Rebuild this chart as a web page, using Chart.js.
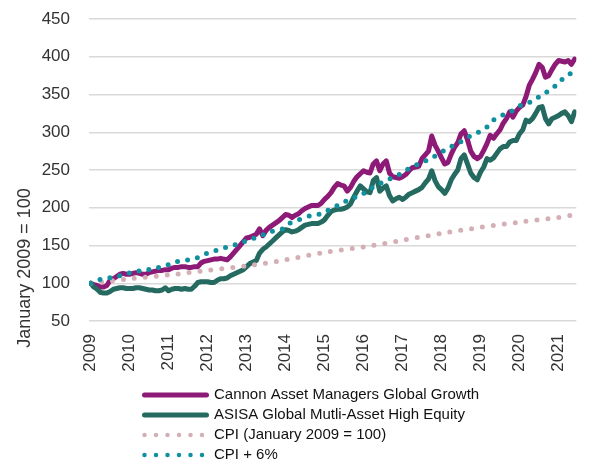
<!DOCTYPE html>
<html>
<head>
<meta charset="utf-8">
<script src="https://cdn.jsdelivr.net/npm/chart.js@4/dist/chart.umd.min.js"></script>
<style>
html,body{margin:0;padding:0;background:#ffffff;}
#wrap{width:592px;height:462px;position:relative;}
</style>
</head>
<body>
<div id="wrap"><canvas id="c"></canvas></div>
<script>
const seriesNames = [
  'Cannon Asset Managers Global Growth',
  'ASISA Global Mutli-Asset High Equity',
  'CPI (January 2009 = 100)',
  'CPI + 6%'
];
const yAxisTitle = 'January 2009 = 100';
const yearLabels = ['2009','2010','2011','2012','2013','2014','2015','2016','2017','2018','2019','2020','2021'];
const yearTickMonths = [0,12,24,36,48,60,72,84,96,108,120,132,144];

// monthly index values, Jan 2009 .. Jun 2021
const cannonMonthly = [
  100,98,97,95,95,97,104,106,109,112,
  113,112,112,113,114,113,112,112,114,115,
  116,117,117,118,118,120,121,121,122,122,
  121,121,122,122,127,129,130,131,132,132,
  133,132,131,135,140,145,150,155,160,161,
  163,165,172,163,170,174,177,180,183,187,
  191,190,187,190,192,196,199,201,203,203,
  203,206,211,215,220,227,232,230,229,222,
  227,235,241,245,249,247,246,258,262,249,
  258,262,246,241,240,239,241,244,249,253,
  254,255,265,270,275,295,283,275,266,258,
  260,271,280,286,298,302,290,275,268,265,
  268,276,285,296,292,298,303,312,318,327,
  320,328,333,336,347,362,370,379,390,386,
  373,375,383,390,395,394,393,395,390,397
];
const asisaMonthly = [
  100,95,92,88,87,87,89,92,93,94,
  94,93,93,93,94,94,93,92,91,91,
  90,90,91,94,90,92,93,93,92,93,
  92,92,96,101,102,102,102,101,101,104,
  106,106,107,110,112,114,116,118,122,126,
  128,130,140,145,148,152,156,160,164,168,
  171,170,168,169,171,174,177,178,179,179,
  179,181,184,190,195,197,198,198,199,201,
  205,214,222,229,225,221,220,236,240,222,
  226,229,216,209,212,214,211,214,218,220,
  222,224,227,233,238,249,236,228,224,219,
  226,237,244,250,265,270,258,246,240,237,
  247,254,265,263,266,272,278,281,281,287,
  289,289,298,303,316,314,318,325,333,334,
  318,311,318,320,322,325,327,322,314,327
];
const cpiMonths = [0,12,24,36,48,60,72,84,96,108,120,132,144,149];
const cpiValues = [100,106,111,117,123,131,141,148,157,166,174,181,187,191];
const cpi6Months = [0,3,7,10,13,16,20,23,26,30,33,36,39,42,46,49,52,55,59,61,64,68,71,74,77,80,83,86,89,92,95,98,101,104,107,110,113,116,119,122,124,127,130,133,136,139,142,144,147,149];
const cpi6Values = [100,105,108,111,115,117,120,123,128,131,134,140,144,148,153,158,162,168,172,179,184,190,192,199,205,212,216,225,232,238,244,252,258,264,271,279,285,293,299,307,316,323,329,337,341,350,357,366,376,381];

const yMin = 50, yMax = 450, yStep = 50;
const colors = ['#8e1a77', '#256a61', '#d4b0b6', '#10909e'];

const toPts = (xs, ys) => ys.map((v, i) => ({x: xs ? xs[i] : i, y: v}));

const textColor = '#333333';
const FONT = '"Liberation Sans", Arial, sans-serif';

const layoutHack = {
  id: 'layoutHack',
  afterLayout(chart) {
    const lg = chart.legend;
    if (!lg) return;
    lg.left = 139.5; lg.right = 505; lg.top = 382.5; lg.bottom = 462;
    lg.width = lg.right - lg.left; lg.height = lg.bottom - lg.top;
  }
};
const yTitlePlugin = {
  id: 'yTitlePlugin',
  afterDraw(chart) {
    const ctx = chart.ctx;
    ctx.save();
    ctx.translate(25, 268);
    ctx.rotate(-Math.PI / 2);
    ctx.textAlign = 'center';
    ctx.textBaseline = 'middle';
    ctx.font = '18px ' + FONT;
    ctx.fillStyle = textColor;
    ctx.fillText(yAxisTitle, 0, 0);
    ctx.restore();
  }
};

Chart.defaults.font.family = FONT;
Chart.defaults.color = textColor;

new Chart(document.getElementById('c'), {
  type: 'line',
  data: {
    datasets: [
      {label: seriesNames[0], data: toPts(null, cannonMonthly), borderColor: colors[0], backgroundColor: colors[0],
       borderWidth: 5, pointRadius: 0, tension: 0, borderJoinStyle: 'round', borderCapStyle: 'round', order: 4},
      {label: seriesNames[1], data: toPts(null, asisaMonthly), borderColor: colors[1], backgroundColor: colors[1],
       borderWidth: 5, pointRadius: 0, tension: 0, borderJoinStyle: 'round', borderCapStyle: 'round', order: 3},
      {label: seriesNames[2], data: toPts(cpiMonths, cpiValues), borderColor: colors[2], backgroundColor: colors[2],
       borderWidth: 5, pointRadius: 0, tension: 0.3, borderDash: [0, 11], borderCapStyle: 'round', order: 2},
      {label: seriesNames[3], data: toPts(cpi6Months, cpi6Values), borderColor: colors[3], backgroundColor: colors[3],
       borderWidth: 5, pointRadius: 0, tension: 0.3, borderDash: [0, 10], borderCapStyle: 'round', order: 1}
    ]
  },
  options: {
    responsive: true,
    maintainAspectRatio: false,
    animation: false,
    devicePixelRatio: 1,
    layout: {padding: {left: 0, right: 4, top: 19, bottom: 79}},
    plugins: {
      legend: {
        position: 'bottom',
        align: 'start',
        maxHeight: 1,
        labels: {
          usePointStyle: true,
          pointStyle: 'line',
          pointStyleWidth: 62,
          boxHeight: 15,
          padding: 5,
          color: '#111111',
          font: {size: 15, family: FONT},
          sort: (a, b) => a.datasetIndex - b.datasetIndex,
          generateLabels(chart) {
            const items = Chart.defaults.plugins.legend.labels.generateLabels(chart);
            items.forEach(it => {
              if (it.datasetIndex >= 2) { it.lineDash = [0, 11.5]; it.lineCap = 'round'; it.lineWidth = 4.5; }
              else { it.lineCap = 'round'; }
            });
            return items;
          }
        }
      },
      tooltip: {enabled: false}
    },
    scales: {
      x: {
        type: 'linear',
        min: -0.5,
        max: 149.5,
        grid: {display: false, drawTicks: false},
        border: {display: false},
        afterBuildTicks(axis) { axis.ticks = yearTickMonths.map(v => ({value: v})); },
        afterFit(scale) { scale.height = 61; },
        ticks: {
          autoSkip: false,
          maxRotation: 90,
          minRotation: 90,
          padding: 13,
          font: {size: 17},
          color: textColor,
          callback: (v) => yearLabels[yearTickMonths.indexOf(v)]
        }
      },
      y: {
        min: yMin,
        max: yMax,
        grid: {color: '#d9d9d9', lineWidth: 1.5, drawTicks: false},
        border: {display: false},
        afterFit(scale) { scale.width = 89; scale.paddingTop = 0; scale.paddingBottom = 0; },
        ticks: {stepSize: yStep, padding: 19, font: {size: 17}, color: textColor}
      }
    }
  },
  plugins: [layoutHack, yTitlePlugin]
});
</script>
</body>
</html>
